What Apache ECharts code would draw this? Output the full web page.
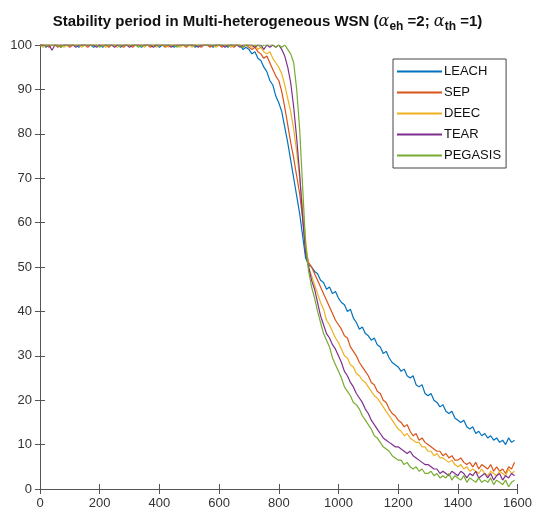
<!DOCTYPE html>
<html>
<head>
<meta charset="utf-8">
<script src="https://cdn.jsdelivr.net/npm/echarts@6/dist/echarts.min.js"></script>
<style>
  html, body { margin: 0; padding: 0; background: #fff; }
  #chart { width: 535px; height: 518px; }
</style>
</head>
<body>
<div id="chart"></div>
<script>
// rounds 0..1590, step 10
const rounds = [];
for (let r = 0; r < 1600; r += 10) rounds.push(r);

const seriesNames = ["LEACH", "SEP", "DEEC", "TEAR", "PEGASIS"];
const xTicks = [0, 200, 400, 600, 800, 1000, 1200, 1400, 1600];
const yTicks = [0, 10, 20, 30, 40, 50, 60, 70, 80, 90, 100];

// alive nodes (%), one row = 100 rounds
const leach = [
  100,100,99.5,100,100,100,100,99.5,100,100,
  100,100,100,99.5,100,100,100,100,99.5,100,
  100,99.5,100,100,100,100,100,99.5,100,100,
  100,100,100,100,99.5,100,100,100,100,100,
  99.5,100,100,100,100,99.5,100,100,100,100,
  100,100,99.5,100,100,100,100,100,99.5,100,
  100,100,100,99.5,100,100,100,100,99,99.5,
  99,98,98.5,97,96.5,95,94,92,91,88.5,
  87,85,81.5,78,74,70,66,62,57,52,
  50.5,50,49,48.5,47,46.5,45,45.5,44,44.5,
  43,42,41.5,40,40.5,38.5,37.5,36,36.5,35,
  34.5,33.5,34,32.5,32,30.5,31,29.5,28.5,28,
  27.5,26.5,27,25.5,25,25.5,23.5,23,23.5,21.5,
  21,21.5,20,19.5,18.5,19,17.5,17,17.5,16,
  15.5,15,15.5,14,13.5,14,12.5,13,12,12.5,
  11.5,12,11,11.5,10.5,11,10,11.5,10.5,11
];
const sep = [
  100,100,100,99.5,100,100,99.5,100,100,100,
  99.5,100,100,100,100,100,99.5,100,100,100,
  100,100,100,99.5,100,100,100,100,99.5,100,
  100,99.5,100,100,100,100,100,99.5,100,100,
  100,100,99.5,100,100,100,100,100,100,99.5,
  100,100,100,100,99.5,100,100,99.5,100,100,
  100,99.5,100,100,100,99.5,100,100,99.5,100,
  99.5,99,99.5,98.5,98,97,97.5,96,94.5,93,
  92,89.5,86,82,78,74.5,70.5,66.5,61,54,
  51,50,48.5,47,45.5,44,42.5,41,39.5,38,
  37,36,34.5,34,32,31,30,28.5,27.5,26.5,
  25.5,24,23.5,22,21.5,20,19.5,18,17,16.5,
  15.5,15,14,14.5,13,12,12.5,11,11.5,10.5,
  10,9.5,9,8.5,8.5,7.5,8,7,7.5,6.5,
  6.5,7,6,5.5,6,5,6,4.5,5.5,5,
  4.5,5.5,4,5,4,4.5,3.5,5,4.5,6
];
const deec = [
  100,99.5,100,100,100,100,100,100,99.5,100,
  100,100,100,100,99.5,100,100,100,100,100,
  100,100,99.5,100,100,100,99.5,100,100,100,
  100,100,100,100,100,99.5,100,100,100,99.5,
  100,100,100,99.5,100,100,100,99.5,100,100,
  100,99.5,100,100,100,100,100,100,100,99.5,
  100,100,100,100,99.5,100,100,100,100,100,
  100,99.5,100,99,99.5,98.5,98,98.5,97,96,
  95,93.5,91,88,85,81,76,70,63,56,
  50,48,46,44,42,40.5,38,37,35.5,34,
  33,31.5,30,29.5,28,27.5,26,25.5,24.5,24,
  23,22,21,20.5,19.5,18.5,17.5,16.5,15.5,14.5,
  13.5,13,12,12.5,11.5,11,10.5,10.5,9.5,9.5,
  8.5,8.5,7.5,8,7,7,6.5,6,6.5,5.5,
  5,5.5,4.5,5,4,4.5,4,3.5,4.5,3.5,
  3,4,3.5,3,4,3.5,3,4.5,3.5,4
];
const tear = [
  100,100,100,100,98.8,100,100,100,100,100,
  100,100,99.5,100,100,100,100,100,100,99.5,
  100,100,100,100,100,99.5,100,100,100,100,
  99.5,100,100,100,100,100,100,100,99.5,100,
  100,100,100,100,99.5,100,100,100,100,100,
  100,100,100,99.5,100,100,100,100,100,100,
  100,100,99.5,100,100,100,100,99.5,100,100,
  100,100,99.5,100,100,99,100,99.5,100,99.5,
  100,99,97.5,95,91.5,86,79,71,61,53,
  50,47,45,42,39,37,35,34,32.5,31.5,
  30,28.5,26.5,25.5,24,23,21.5,20.5,19.5,18,
  17,15.5,14.5,13.5,12.5,11.5,11,10.5,10,9.5,
  9.5,9,8.5,8,8.5,7.5,7,6.5,6,5.5,
  5.5,5,4.5,4.5,3.5,4,3.5,3,4,3.5,
  3,4,3.5,2.5,3.5,3,4,2.5,3,3.5,
  2.5,3.5,2,3,3.5,2,3,2.5,3.5,3
];
const pegasis = [
  100,100,100,100,100,100,100,99.5,100,100,
  100,100,100,100,100,100,100,100,100,100,
  99.5,100,100,100,100,100,100,100,100,100,
  100,100,100,99.5,100,100,100,100,100,100,
  100,100,100,100,100,100,99.5,100,100,100,
  100,100,100,100,100,100,100,100,100,100,
  100,100,100,100,100,100,100,100,99.5,100,
  100,100,100,100,99.5,100,100,100,100,99.5,
  100,99.5,100,99,98,96,90,81,68,55,
  49,45.5,43,40,37.5,35,33.5,32,29.5,28,
  26.5,25,23,22,21,19.5,19,18,16.5,15.5,
  14.5,13.5,12,11.5,10.5,9.5,9,8.5,7.5,7,
  6.5,6.5,5.5,6,5,4.5,5,4,4.5,3.5,
  3.5,4,3,3.5,2.5,3,2.5,3.5,2,3,
  2.5,2,3,1.5,2.5,2,1.5,2.5,1.5,2,
  1.5,2.5,1,2,1.5,1,2,0.5,1.5,2
];

const seriesValues = [leach, sep, deec, tear, pegasis];
const colors = ["#0072BD", "#D95319", "#EDB120", "#7E2F8E", "#77AC30"];

const dom = echarts.init(document.getElementById("chart"));

const axisColor = "#555";
const labelStyle = { color: "#333", fontSize: 13, fontFamily: "Liberation Sans, Arial, sans-serif" };

const option = {
  animation: false,
  backgroundColor: "#fff",
  color: colors,
  title: {
    left: "center",
    top: 6,
    text: "{b|Stability period in Multi-heterogeneous WSN (}{a|α}{s|eh}{b| =2; }{a|α}{s|th}{b| =1)}",
    textStyle: {
      rich: {
        b: { fontSize: 15, fontWeight: "bold", color: "#111", fontFamily: "Liberation Sans, Arial, sans-serif" },
        a: { fontSize: 16, fontStyle: "italic", fontWeight: "normal", color: "#111", fontFamily: "DejaVu Serif, serif" },
        s: { fontSize: 12, fontWeight: "bold", color: "#111", fontFamily: "Liberation Sans, Arial, sans-serif", padding: [10, 0, 0, 0] }
      }
    }
  },
  legend: {
    orient: "vertical",
    left: 393,
    top: 59,
    padding: [6, 5, 6, 4],
    itemGap: 8,
    itemWidth: 45,
    itemHeight: 2,
    icon: "rect",
    borderColor: "#444",
    borderWidth: 1,
    backgroundColor: "#fff",
    textStyle: { color: "#111", fontSize: 13, fontFamily: "Liberation Sans, Arial, sans-serif", padding: [0, 0, 0, -3] },
    data: seriesNames
  },
  grid: { left: 40, right: 15, top: 45, bottom: 29 },
  xAxis: [
    {
      type: "value", min: 0, max: 1600, interval: 200,
      axisLine: { lineStyle: { color: axisColor } },
      axisTick: { inside: true, length: 5, lineStyle: { color: axisColor } },
      axisLabel: Object.assign({ margin: 8, formatter: (v) => String(v) }, labelStyle),
      splitLine: { show: false }
    },
    {
      type: "value", position: "top", min: 0, max: 1600, interval: 200,
      axisLine: { show: true, lineStyle: { color: axisColor } },
      axisTick: { show: true, inside: true, length: 5, lineStyle: { color: axisColor } },
      axisLabel: { show: false },
      splitLine: { show: false }
    }
  ],
  yAxis: [
    {
      type: "value", min: 0, max: 100, interval: 10,
      axisLine: { show: true, lineStyle: { color: axisColor } },
      axisTick: { show: true, inside: true, length: 5, lineStyle: { color: axisColor } },
      axisLabel: Object.assign({ margin: 8, formatter: (v) => String(v) }, labelStyle),
      splitLine: { show: false }
    },
    {
      type: "value", position: "right", min: 0, max: 100, interval: 10,
      axisLine: { show: true, lineStyle: { color: axisColor } },
      axisTick: { show: true, inside: true, length: 5, lineStyle: { color: axisColor } },
      axisLabel: { show: false },
      splitLine: { show: false }
    }
  ],
  series: seriesNames.map((name, i) => ({
    name: name,
    type: "line",
    showSymbol: false,
    symbol: "none",
    lineStyle: { width: 1.2, color: colors[i] },
    itemStyle: { color: colors[i] },
    data: rounds.map((r, k) => [r, seriesValues[i][k]])
  }))
};

dom.setOption(option);
window.addEventListener("resize", () => dom.resize());
</script>
</body>
</html>
